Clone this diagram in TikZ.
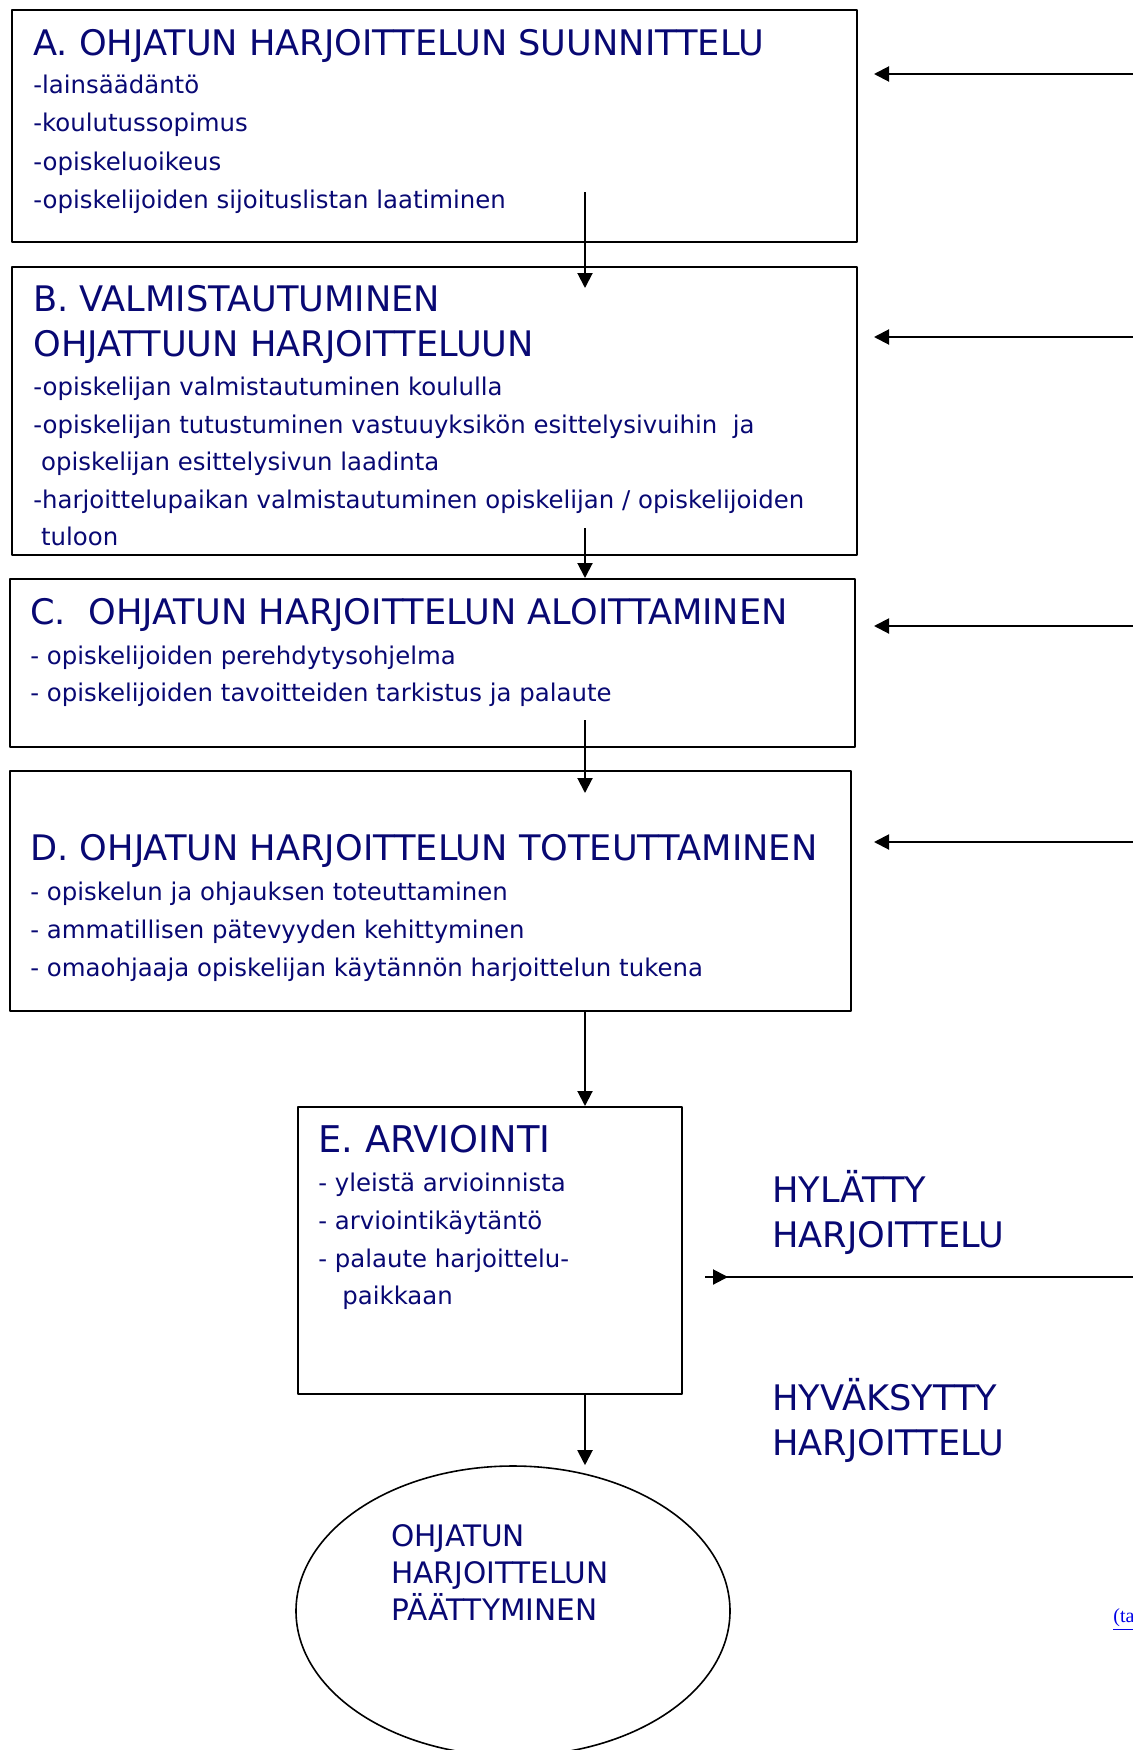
\documentclass[tikz,border=0pt]{standalone}
\usepackage{fontspec}
\setmainfont{DejaVu Sans}
\newfontfamily\linkfont{Liberation Serif}
\usetikzlibrary{arrows.meta,shapes.geometric}
\definecolor{ink}{RGB}{8,8,115}
\definecolor{linkblue}{RGB}{0,0,230}
\begin{document}
\begin{tikzpicture}[x=0.5pt,y=-0.5pt,line join=round,
	box/.style={draw,line width=1pt,anchor=north west,inner sep=0pt},
	head/.style={text=ink,font=\fontsize{17.6}{20}\selectfont,anchor=base west,inner sep=0pt},
	item/.style={text=ink,font=\fontsize{12.2}{14}\selectfont,anchor=base west,inner sep=0pt},
	arrow/.style={-{Triangle[length=7.5pt,width=7.5pt]},line width=1pt}]
	\useasboundingbox (0,0) rectangle (1133,1750);
	% laatikot
	\node[box,minimum width=422.5pt,minimum height=116pt] (A) at (11,9) {};
	\node[box,minimum width=422.5pt,minimum height=144pt] (B) at (11,266) {};
	\node[box,minimum width=422.5pt,minimum height=84pt] (C) at (9,578) {};
	\node[box,minimum width=420.5pt,minimum height=120pt] (D) at (9,770) {};
	\node[box,minimum width=192pt,minimum height=143.5pt] (E) at (297,1106) {};
	\node[draw,ellipse,line width=0.8pt,minimum width=217pt,minimum height=145pt] (F) at (513,1611) {};
	% tekstit
	\node[head] (A0) at (33,56) {A. OHJATUN HARJOITTELUN SUUNNITTELU};
	\foreach \t [count=\i] in {-lainsäädäntö,-koulutussopimus,-opiskeluoikeus,-opiskelijoiden sijoituslistan laatiminen}
	\node[item] (A\i) at (33,56+38*\i) {\t};
	\node[head] (B0) at (33,311) {B. VALMISTAUTUMINEN};
	\node[head] (B00) at (33,356) {OHJATTUUN HARJOITTELUUN};
	\foreach \t [count=\i] in {{-opiskelijan valmistautuminen koululla},
		{-opiskelijan tutustuminen vastuuyksikön esittelysivuihin\ \ ja},
		{\ opiskelijan esittelysivun laadinta},
		{-harjoittelupaikan valmistautuminen opiskelijan / opiskelijoiden},
		{\ tuloon}}
	\node[item] (B\i) at (33,358+37.5*\i) {\t};
	\node[head] (C0) at (30,624) {C.\ \ OHJATUN HARJOITTELUN ALOITTAMINEN};
	\foreach \t [count=\i] in {- opiskelijoiden perehdytysohjelma,- opiskelijoiden tavoitteiden tarkistus ja palaute}
	\node[item] (C\i) at (30,627+37*\i) {\t};
	\node[head] (D0) at (30,860) {D. OHJATUN HARJOITTELUN TOTEUTTAMINEN};
	\foreach \t [count=\i] in {- opiskelun ja ohjauksen toteuttaminen,- ammatillisen pätevyyden kehittyminen,- omaohjaaja opiskelijan käytännön harjoittelun tukena}
	\node[item] (D\i) at (30,862+38*\i) {\t};
	\node[head,font=\fontsize{18.4}{20}\selectfont] (E0) at (318,1152) {E. ARVIOINTI};
	\foreach \t [count=\i] in {- yleistä arvioinnista,- arviointikäytäntö,- palaute harjoittelu-,\hspace*{12pt}paikkaan}
	\node[item] (E\i) at (318,1154+37.7*\i) {\t};
	\foreach \t [count=\i] in {OHJATUN,HARJOITTELUN,PÄÄTTYMINEN}
	\node[head,font=\fontsize{14.8}{17}\selectfont] (F\i) at (391,1509+37*\i) {\t};
	\node[head] (hyl1) at (772,1202) {HYLÄTTY};
	\node[head] (hyl2) at (772,1247) {HARJOITTELU};
	\node[head] (hyv1) at (772,1410) {HYVÄKSYTTY};
	\node[head] (hyv2) at (772,1455) {HARJOITTELU};
	\node[anchor=base west,inner sep=0pt,text=linkblue,font=\linkfont\fontsize{10}{12}\selectfont] (ta) at (1113,1622) {\underline{(ta}};
	% nuolet
	\path
	(585,192) coordinate (a1)
	(585,288) coordinate (b0)
	(585,528) coordinate (b1)
	(585,720) coordinate (c1)
	(585,793) coordinate (d0)
	(1133,1277) coordinate (rej)
	(705,1277) coordinate (rej0)
	;
	\draw[arrow] (a1)--(b0);
	\draw[arrow] (b1)--(C.north -| b1);
	\draw[arrow] (c1)--(d0);
	\draw[arrow] (D.south -| a1)--(E.north -| a1);
	\draw[arrow] (E.south -| a1)--(F.north -| a1);
	\foreach \b/\y in {A/74,B/337,C/626,D/842}{
		\coordinate (r\b) at (1133,\y);
		\coordinate (t\b) at (874,\y);
		\draw[arrow] (r\b)--(t\b);
	}
	\draw[line width=1pt] (rej)--(rej0);
	\draw[arrow] (rej0)--++(23,0);
\end{tikzpicture}
\end{document}
